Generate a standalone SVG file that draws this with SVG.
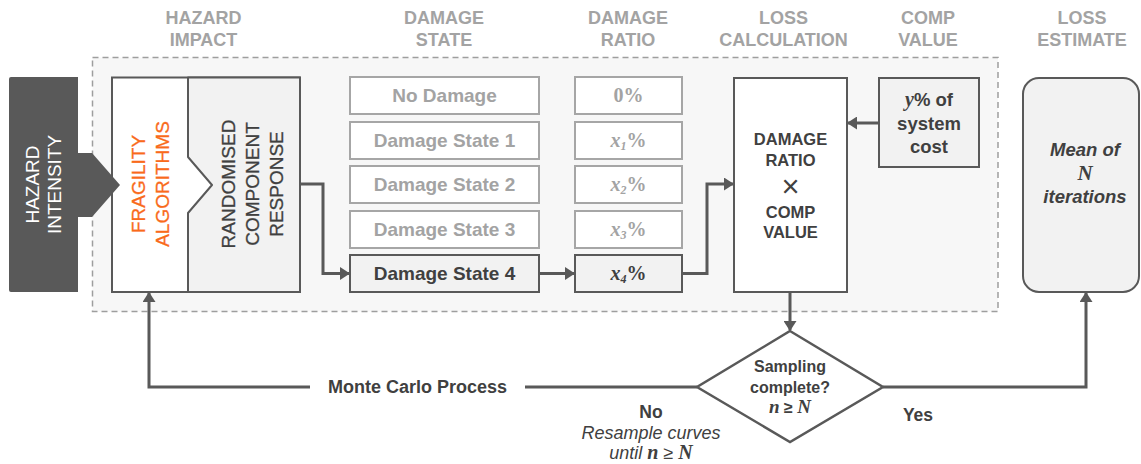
<svg xmlns="http://www.w3.org/2000/svg" width="1141" height="464" viewBox="0 0 1141 464">
<style>
.hd{font-family:"Liberation Sans",Arial,sans-serif;font-weight:bold;font-size:18px;fill:#a3a3a3;text-anchor:middle}
.box{stroke:#595959;stroke-width:2}
.gbox{fill:#fff;stroke:#a6a6a6;stroke-width:2}
.ds{font-family:"Liberation Sans",Arial,sans-serif;font-weight:bold;font-size:19px;fill:#a3a3a3;text-anchor:middle}
.dr{font-family:"Liberation Serif","Times New Roman",serif;font-weight:bold;font-size:20px;fill:#a3a3a3;text-anchor:middle}
.t{font-family:"Liberation Sans",Arial,sans-serif;fill:#404040;text-anchor:middle}
.m{font-family:"Liberation Serif","Times New Roman",serif;font-weight:bold;font-style:italic}
.ln{fill:none;stroke:#595959;stroke-width:3}
</style>
<defs>
<marker id="ah" markerUnits="userSpaceOnUse" markerWidth="10" markerHeight="13" viewBox="0 0 10 13" refX="9" refY="6.5" orient="auto">
<path d="M0,0 L10,6.5 L0,13 Z" fill="#595959"/>
</marker>
</defs>
<rect width="1141" height="464" fill="#fff"/>

<g id="headings">
<text class="hd" x="203.5" y="24">HAZARD</text><text class="hd" x="203.5" y="46">IMPACT</text>
<text class="hd" x="444" y="24">DAMAGE</text><text class="hd" x="444" y="46">STATE</text>
<text class="hd" x="628" y="24">DAMAGE</text><text class="hd" x="628" y="46">RATIO</text>
<text class="hd" x="783.5" y="24">LOSS</text><text class="hd" x="783.5" y="46">CALCULATION</text>
<text class="hd" x="928" y="24">COMP</text><text class="hd" x="928" y="46">VALUE</text>
<text class="hd" x="1082" y="24">LOSS</text><text class="hd" x="1082" y="46">ESTIMATE</text>
</g>

<g id="frame">
<rect x="92.5" y="57.5" width="905.5" height="254" fill="#f7f7f7" stroke="#9e9e9e" stroke-width="1.5" stroke-dasharray="6 4"/>
</g>

<g id="fragility">
<rect class="box" x="112" y="77.5" width="188" height="214.5" fill="#fff"/>
<path d="M188,77.5 H300 V292 H188 V213 L212,185 L188,157 Z" fill="#f2f2f2" stroke="#595959" stroke-width="2" stroke-linejoin="round"/>
<path d="M300,77.5 V292" stroke="#595959" stroke-width="2"/>
<g transform="translate(0,184) rotate(-90)" font-family="Liberation Sans, Arial, sans-serif" font-size="19" text-anchor="middle">
<text x="0" y="145" fill="#f96a1b" stroke="#f96a1b" stroke-width="0.3">FRAGILITY</text>
<text x="0" y="169" fill="#f96a1b" stroke="#f96a1b" stroke-width="0.3">ALGORITHMS</text>
<text x="0" y="235" fill="#404040" stroke="#404040" stroke-width="0.3">RANDOMISED</text>
<text x="0" y="259" fill="#404040" stroke="#404040" stroke-width="0.3">COMPONENT</text>
<text x="0" y="283" fill="#404040" stroke="#404040" stroke-width="0.3">RESPONSE</text>
</g>
</g>

<g id="hazard-intensity">
<path d="M11,77 H78 V153 H92 L120,185 L92,217 H78 V292 H11 Q9,292 9,290 V79 Q9,77 11,77 Z" fill="#595959"/>
<g transform="translate(0,184.5) rotate(-90)" font-family="Liberation Sans, Arial, sans-serif" font-size="19" text-anchor="middle" fill="#fff">
<text x="0" y="39">HAZARD</text>
<text x="0" y="61">INTENSITY</text>
</g>
</g>

<g id="damage-states">
<rect class="gbox" x="350" y="77" width="189" height="37"/><text class="ds" x="444.5" y="102">No Damage</text>
<rect class="gbox" x="350" y="122" width="189" height="37"/><text class="ds" x="444.5" y="147">Damage State 1</text>
<rect class="gbox" x="350" y="166" width="189" height="37"/><text class="ds" x="444.5" y="191">Damage State 2</text>
<rect class="gbox" x="350" y="211" width="189" height="37"/><text class="ds" x="444.5" y="236">Damage State 3</text>
<rect class="box" x="350" y="255" width="189" height="37" fill="#f2f2f2"/><text class="ds" x="444.5" y="280" style="fill:#404040">Damage State 4</text>
</g>

<g id="damage-ratios">
<rect class="gbox" x="575" y="77" width="107" height="37"/><text class="dr" x="628.5" y="102">0%</text>
<rect class="gbox" x="575" y="122" width="107" height="37"/><text class="dr" x="628.5" y="147"><tspan font-style="italic">x</tspan><tspan font-size="12" font-style="italic" dy="3">1</tspan><tspan dy="-3">%</tspan></text>
<rect class="gbox" x="575" y="166" width="107" height="37"/><text class="dr" x="628.5" y="191"><tspan font-style="italic">x</tspan><tspan font-size="12" font-style="italic" dy="3">2</tspan><tspan dy="-3">%</tspan></text>
<rect class="gbox" x="575" y="211" width="107" height="37"/><text class="dr" x="628.5" y="236"><tspan font-style="italic">x</tspan><tspan font-size="12" font-style="italic" dy="3">3</tspan><tspan dy="-3">%</tspan></text>
<rect class="box" x="575" y="255" width="107" height="37" fill="#f2f2f2"/><text class="dr" x="628.5" y="280" style="fill:#404040"><tspan font-style="italic">x</tspan><tspan font-size="12" font-style="italic" dy="3">4</tspan><tspan dy="-3">%</tspan></text>
</g>

<g id="loss-calculation">
<rect class="box" x="734" y="78" width="113" height="214" fill="#fff"/>
<g class="t" font-weight="bold" font-size="16.5">
<text x="790.5" y="145">DAMAGE</text>
<text x="790.5" y="166">RATIO</text>
<text x="790.5" y="197" font-weight="normal" font-size="31">×</text>
<text x="790.5" y="218">COMP</text>
<text x="790.5" y="238">VALUE</text>
</g>
</g>

<g id="comp-value">
<rect class="box" x="879" y="78" width="100" height="89" fill="#f2f2f2"/>
<g class="t" font-weight="bold" font-size="18.5">
<text x="929" y="106"><tspan class="m" font-size="20">y</tspan>%  of</text>
<text x="929" y="129.5">system</text>
<text x="929" y="153">cost</text>
</g>
</g>

<g id="loss-estimate">
<rect class="box" x="1023" y="78" width="116" height="214" rx="16" fill="#f2f2f2"/>
<g class="t" font-weight="bold" font-style="italic" font-size="18.5">
<text x="1085" y="156">Mean of</text>
<text x="1085" y="180" class="m" font-size="21">N</text>
<text x="1085" y="203">iterations</text>
</g>
</g>

<g id="decision">
<path d="M790,331 L883,387 L790,442 L697,387 Z" fill="#fff" stroke="#595959" stroke-width="2.5" stroke-linejoin="miter"/>
<g class="t" font-weight="bold" font-size="16">
<text x="790" y="372">Sampling</text>
<text x="790" y="393">complete?</text>
<text x="790" y="413"><tspan class="m" font-size="19">n</tspan> ≥ <tspan class="m" font-size="19">N</tspan></text>
</g>
</g>

<g id="connectors">
<path class="ln" d="M300,184 H323 V273.5 H349" marker-end="url(#ah)"/>
<path class="ln" d="M539,273.5 H574" marker-end="url(#ah)"/>
<path class="ln" d="M682,273.5 H707 V184 H733" marker-end="url(#ah)"/>
<path class="ln" d="M879,123 H848" marker-end="url(#ah)"/>
<path class="ln" d="M790,292 V330" marker-end="url(#ah)"/>
<path class="ln" d="M697,387 H525"/>
<path class="ln" d="M310,387 H149 V293" marker-end="url(#ah)"/>
<path class="ln" d="M883,387 H1086 V293" marker-end="url(#ah)"/>
</g>

<g id="labels">
<text class="t" x="417.5" y="393" font-weight="bold" font-size="18">Monte Carlo Process</text>
<text class="t" x="651" y="418" font-weight="bold" font-size="17.5">No</text>
<text class="t" x="651" y="439" font-style="italic" font-size="18">Resample curves</text>
<text class="t" x="651" y="459" font-style="italic" font-size="18">until <tspan class="m" font-size="20">n</tspan> ≥ <tspan class="m" font-size="20">N</tspan></text>
<text class="t" x="918" y="421" font-weight="bold" font-size="17.5">Yes</text>
</g>
</svg>
